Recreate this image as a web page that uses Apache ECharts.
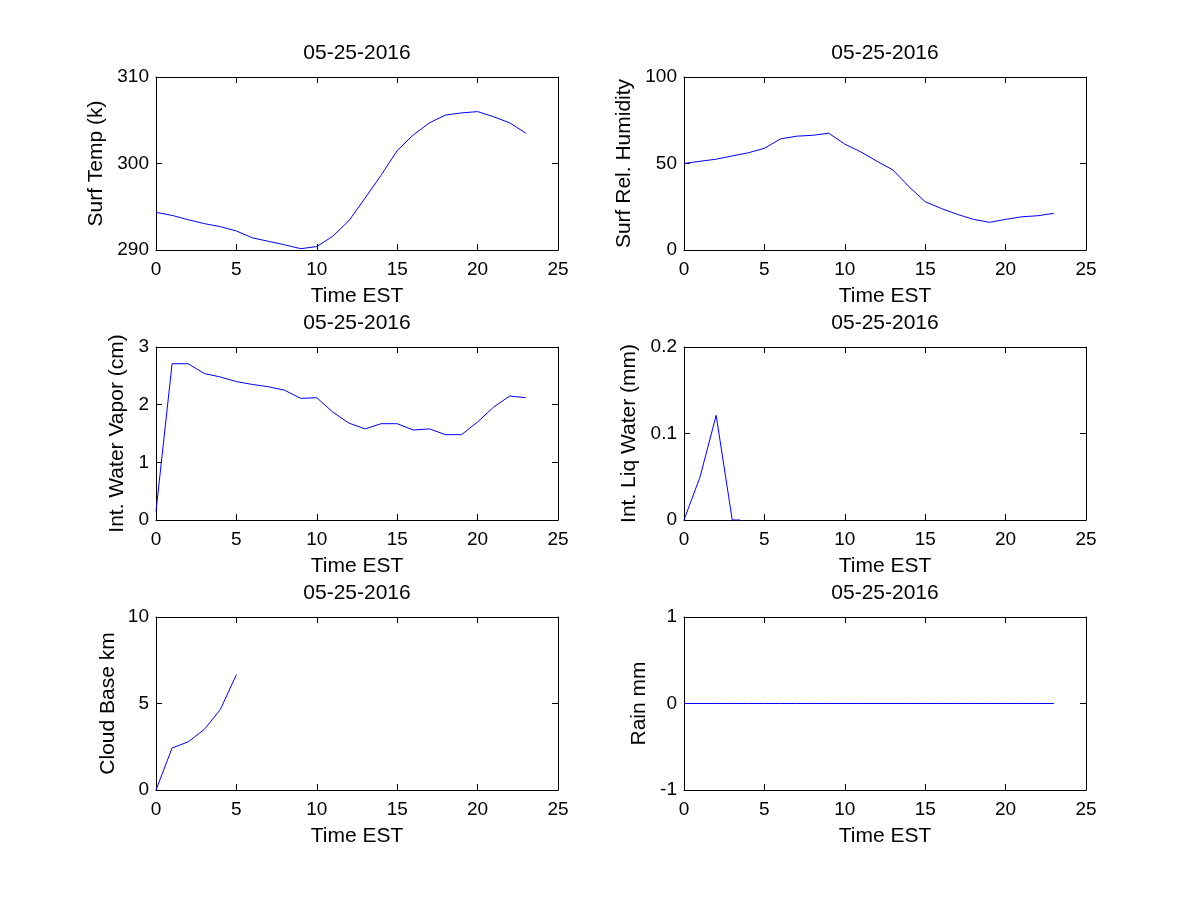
<!DOCTYPE html>
<html lang="en">
<head>
<meta charset="UTF-8">
<title>05-25-2016</title>
<script src="https://cdn.jsdelivr.net/npm/echarts@6/dist/echarts.min.js"></script>
<style>
  html, body { margin: 0; padding: 0; background: #fff; }
  #main { width: 1200px; height: 900px; }
</style>
</head>
<body>
<div id="main"></div>
<script>
// hourly values
var hours = [0, 1, 2, 3, 4, 5, 6, 7, 8, 9, 10, 11, 12, 13, 14, 15, 16, 17, 18, 19, 20, 21, 22, 23];
var surfTemp = [294.35, 294.0, 293.5, 293.05, 292.7, 292.2, 291.4, 291.0, 290.6, 290.15, 290.4, 291.6,
                293.4, 296.0, 298.65, 301.5, 303.3, 304.7, 305.6, 305.85, 306.0, 305.4, 304.7, 303.5];
var relHum = [50, 51.3, 52.5, 54.4, 56.2, 58.8, 64.2, 65.8, 66.3, 67.5, 61.2, 56.7,
              51.3, 46.2, 36.5, 27.9, 24.0, 20.6, 17.7, 16.0, 17.7, 19.2, 19.8, 21.2];
var waterVapor = [0.15, 2.71, 2.71, 2.54, 2.48, 2.40, 2.35, 2.31, 2.25, 2.11, 2.12, 1.87,
                  1.68, 1.58, 1.67, 1.67, 1.56, 1.58, 1.48, 1.48, 1.70, 1.96, 2.15, 2.12];
var liqTime = [0, 1, 2, 3, 3.5];
var liqWater = [0, 0.05, 0.121, 0, 0];
var cloudTime = [0, 1, 2, 3, 4, 5];
var cloudBase = [0, 2.43, 2.78, 3.5, 4.65, 6.67];
var rain = [0, 0, 0, 0, 0, 0, 0, 0, 0, 0, 0, 0, 0, 0, 0, 0, 0, 0, 0, 0, 0, 0, 0, 0];

var dateText = '05-25-2016';
var xName = 'Time EST';

var font = 'Arial, "Liberation Sans", Helvetica, sans-serif';

// one entry per subplot
var panels = [
  { x: hours, y: surfTemp, name: 'Surf Temp (k)', min: 290, max: 310, step: 10, gap: 49 },
  { x: hours, y: relHum, name: 'Surf Rel. Humidity', min: 0, max: 100, step: 50, gap: 49 },
  { x: hours, y: waterVapor, name: 'Int. Water Vapor (cm)', min: 0, max: 3, step: 1, gap: 28 },
  { x: liqTime, y: liqWater, name: 'Int. Liq Water (mm)', min: 0, max: 0.2, step: 0.1, gap: 44 },
  { x: cloudTime, y: cloudBase, name: 'Cloud Base km', min: 0, max: 10, step: 5, gap: 37 },
  { x: hours, y: rain, name: 'Rain mm', min: -1, max: 1, step: 1, gap: 34 }
];

var lefts = [156, 684];
var tops = [77, 347, 617];
var w = 402, h = 173;

function pairs(xs, ys) {
  return xs.map(function (t, i) { return [t, ys[i]]; });
}

var grids = [], xAxes = [], yAxes = [], series = [], titles = [];

panels.forEach(function (p, i) {
  var col = i % 2, row = Math.floor(i / 2);
  grids.push({ left: lefts[col], top: tops[row], width: w, height: h, containLabel: false });

  var line = { show: true, onZero: false, lineStyle: { color: '#000', width: 1 } };
  var tick = { show: true, inside: true, length: 6, lineStyle: { color: '#000', width: 1 } };

  // bottom axis with labels
  xAxes.push({
    type: 'value', gridIndex: i, position: 'bottom', min: 0, max: 25, interval: 5,
    name: xName, nameLocation: 'middle', nameGap: 36, nameMoveOverlap: false,
    nameTextStyle: { color: '#000', fontSize: 21, fontFamily: font },
    axisLine: line, axisTick: tick, splitLine: { show: false },
    axisLabel: { color: '#000', fontSize: 19, fontFamily: font, margin: 10 }
  });
  // top mirror (ticks only)
  xAxes.push({
    type: 'value', gridIndex: i, position: 'top', min: 0, max: 25, interval: 5,
    axisLine: line, axisTick: tick, splitLine: { show: false }, axisLabel: { show: false }
  });
  yAxes.push({
    type: 'value', gridIndex: i, position: 'left', min: p.min, max: p.max, interval: p.step,
    name: p.name, nameLocation: 'middle', nameGap: p.gap, nameMoveOverlap: false,
    nameTextStyle: { color: '#000', fontSize: 21, fontFamily: font },
    axisLine: line, axisTick: tick, splitLine: { show: false },
    axisLabel: { color: '#000', fontSize: 19, fontFamily: font, margin: 7 }
  });
  yAxes.push({
    type: 'value', gridIndex: i, position: 'right', min: p.min, max: p.max, interval: p.step,
    axisLine: line, axisTick: tick, splitLine: { show: false }, axisLabel: { show: false }
  });

  series.push({
    type: 'line', xAxisIndex: 2 * i, yAxisIndex: 2 * i,
    data: pairs(p.x, p.y), showSymbol: false, symbol: 'none',
    lineStyle: { color: '#0000ff', width: 1 }
  });

  titles.push({
    text: dateText, left: lefts[col] + w / 2, top: tops[row] - 34, textAlign: 'center', padding: 0,
    textStyle: { color: '#000', fontSize: 21, fontWeight: 'normal', fontFamily: font }
  });
});

var chart = echarts.init(document.getElementById('main'));
chart.setOption({
  backgroundColor: '#fff',
  animation: false,
  title: titles,
  grid: grids,
  xAxis: xAxes,
  yAxis: yAxes,
  series: series
});
</script>
</body>
</html>
